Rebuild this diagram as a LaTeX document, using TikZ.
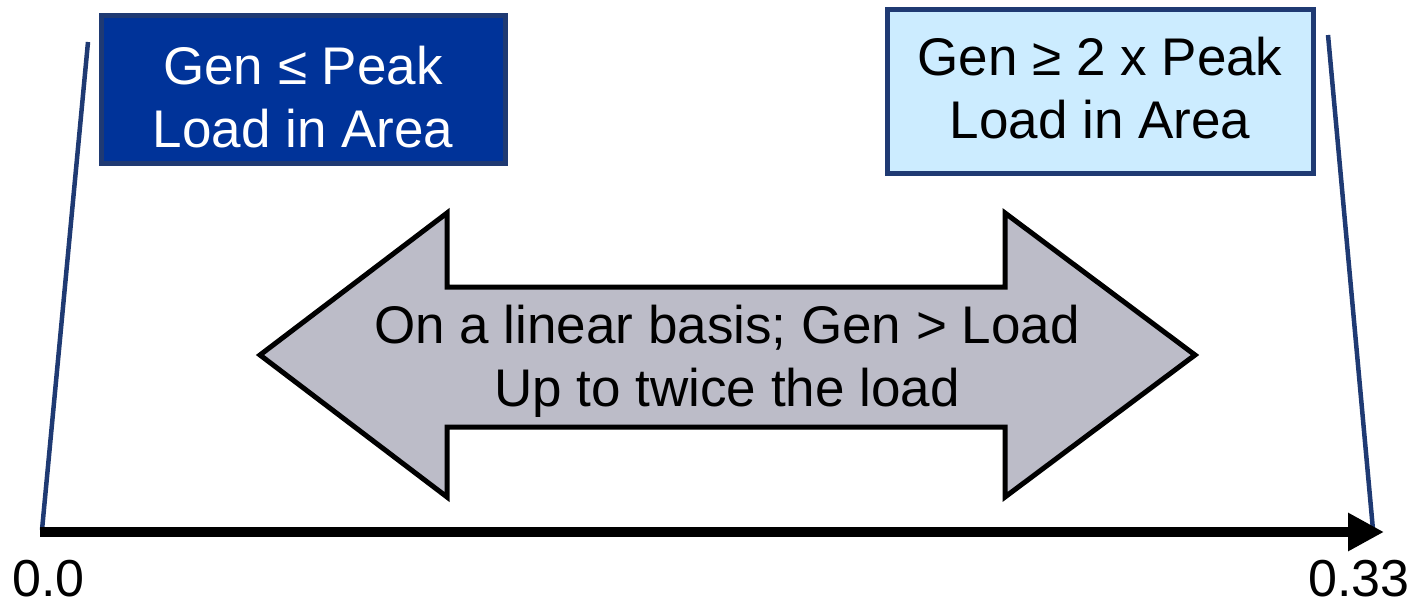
\documentclass[tikz,border=0pt]{standalone}
\usepackage{fontspec}
\setmainfont{Liberation Sans}
\usetikzlibrary{arrows.meta}

\definecolor{navyline}{HTML}{1F3A73}
\definecolor{deepblue}{HTML}{003399}
\definecolor{paleblue}{HTML}{CCECFF}
\definecolor{arrowgrey}{HTML}{BCBCC8}

\tikzset{
  bigtext/.style={font=\fontsize{53}{63}\selectfont, align=center, inner sep=0pt},
  ticktext/.style={font=\fontsize{52}{60}\selectfont, inner sep=0pt, text depth=0pt, anchor=base west},
  rangebox/.style={draw=navyline, line width=5pt, inner sep=0pt},
  boundline/.style={draw=navyline, line width=4.5pt},
  axisline/.style={line width=10pt, -{Triangle[length=36pt,width=36pt]}},
  spanarrow/.style={draw=black, line width=5pt, fill=arrowgrey, line join=miter},
}

\begin{document}
\begin{tikzpicture}[x=1pt,y=-1pt]
  \useasboundingbox (0,0) rectangle (1422,602);

  % range end boxes
  \node[rangebox, fill=deepblue, minimum width=404pt, minimum height=147pt] (lowbox) at (303,89.5) {};
  \node[bigtext, text=white] (lowtext) at (303,97) {Gen ≤ Peak\\Load in Area};

  \node[rangebox, fill=paleblue, minimum width=426pt, minimum height=163pt] (highbox) at (1100,91.5) {};
  \node[bigtext, text=black] (hightext) at (1100,88) {Gen ≥ 2 x Peak\\Load in Area};

  % slanted boundary lines down to the axis
  \coordinate (lowtop) at (88,42);
  \coordinate (lowfoot) at (42,530);
  \coordinate (hightop) at (1328,35);
  \coordinate (highfoot) at (1373,530);
  \draw[boundline] (lowtop) -- (lowfoot);
  \draw[boundline] (hightop) -- (highfoot);

  % horizontal axis
  \coordinate (axisstart) at (40,532);
  \coordinate (axisend) at (1384,532);
  \draw[axisline] (axisstart) -- (axisend);

  \node[ticktext] (tickzero) at (12,596.5) {0.0};
  \node[ticktext] (tickmax) at (1308,596.5) {0.33};

  % double-headed span arrow
  \draw[spanarrow] (260,355) -- (447,213) -- (447,287) -- (1005,287) -- (1005,213)
    -- (1195,355) -- (1005,497) -- (1005,427) -- (447,427) -- (447,497) -- cycle;
  \node[bigtext] (spantext) at (727,361.5) {On a linear basis; Gen > Load\\Up to twice the load};
\end{tikzpicture}
\end{document}
